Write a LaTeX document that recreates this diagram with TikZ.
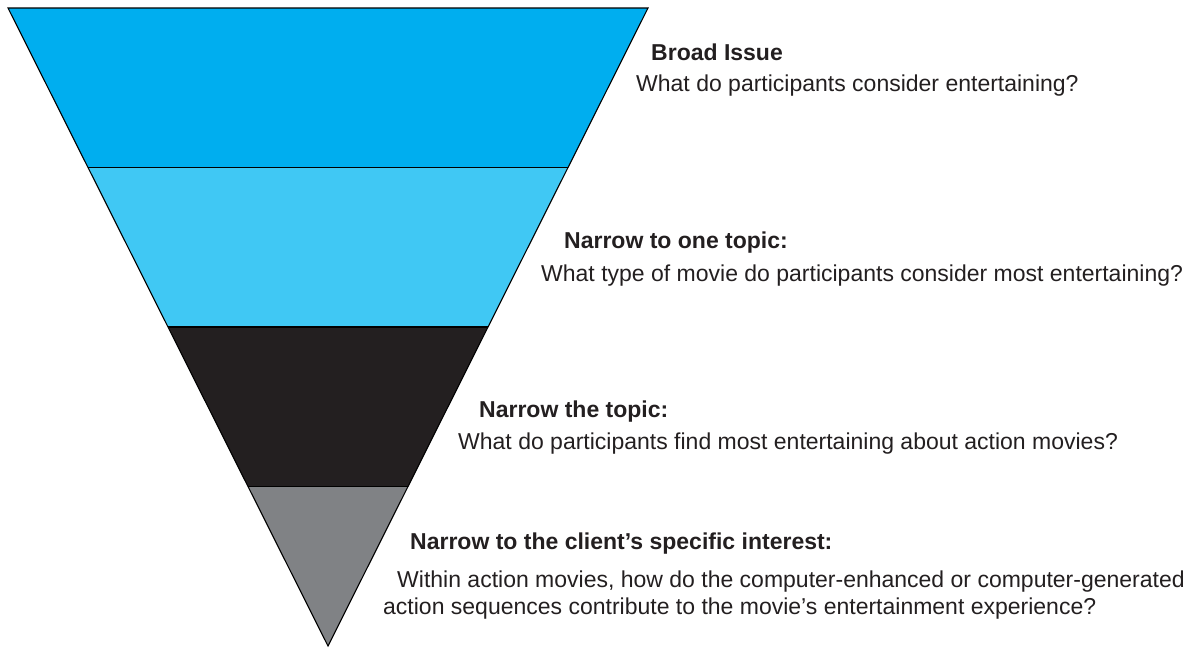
\documentclass[tikz,border=0pt]{standalone}
\usepackage{fontspec}
\setmainfont{Liberation Sans}
\usetikzlibrary{calc}
\definecolor{bandA}{HTML}{00AEEF}
\definecolor{bandB}{HTML}{40C8F4}
\definecolor{bandC}{HTML}{231F20}
\definecolor{bandD}{HTML}{808285}
\definecolor{txt}{HTML}{231F20}
\tikzset{
  head/.style={anchor=base west, inner sep=0pt, font=\fontsize{23}{27}\selectfont\bfseries, text=txt},
  body/.style={anchor=base west, inner sep=0pt, font=\fontsize{23}{27}\selectfont, text=txt},
  edge/.style={draw=black, line width=1.1pt, line join=miter}
}
\begin{document}
\begin{tikzpicture}[x=1pt,y=-1pt]
\useasboundingbox (0,0) rectangle (1193,648);
\coordinate (A) at (8,8);
\coordinate (B) at (648,8);
\coordinate (P) at (328,646);
\coordinate (L1) at ($(A)!0.25!(P)$);
\coordinate (R1) at ($(B)!0.25!(P)$);
\coordinate (L2) at ($(A)!0.5!(P)$);
\coordinate (R2) at ($(B)!0.5!(P)$);
\coordinate (L3) at ($(A)!0.75!(P)$);
\coordinate (R3) at ($(B)!0.75!(P)$);
\fill[bandA] (A) -- (B) -- (R1) -- (L1) -- cycle;
\fill[bandB] (L1) -- (R1) -- (R2) -- (L2) -- cycle;
\fill[bandC] (L2) -- (R2) -- (R3) -- (L3) -- cycle;
\fill[bandD] (L3) -- (R3) -- (P) -- cycle;
\draw[edge] (L1) -- (R1);
\draw[edge] (L2) -- (R2);
\draw[edge] (L3) -- (R3);
\draw[edge] (A) -- (B) -- (P) -- cycle;

\node[head] (h1) at (651,60) {Broad Issue};
\node[body] (b1) at (636,91) {What do participants consider entertaining?};
\node[head] (h2) at (564,248) {Narrow to one topic:};
\node[body] (b2) at (541,281) {What type of movie do participants consider most entertaining?};
\node[head] (h3) at (479,417) {Narrow the topic:};
\node[body] (b3) at (458,449) {What do participants find most entertaining about action movies?};
\node[head] (h4) at (410,549) {Narrow to the client’s specific interest:};
\node[body] (b4a) at (397,587) {Within action movies, how do the computer-enhanced or computer-generated};
\node[body] (b4b) at (383,614) {action sequences contribute to the movie’s entertainment experience?};
\end{tikzpicture}
\end{document}
